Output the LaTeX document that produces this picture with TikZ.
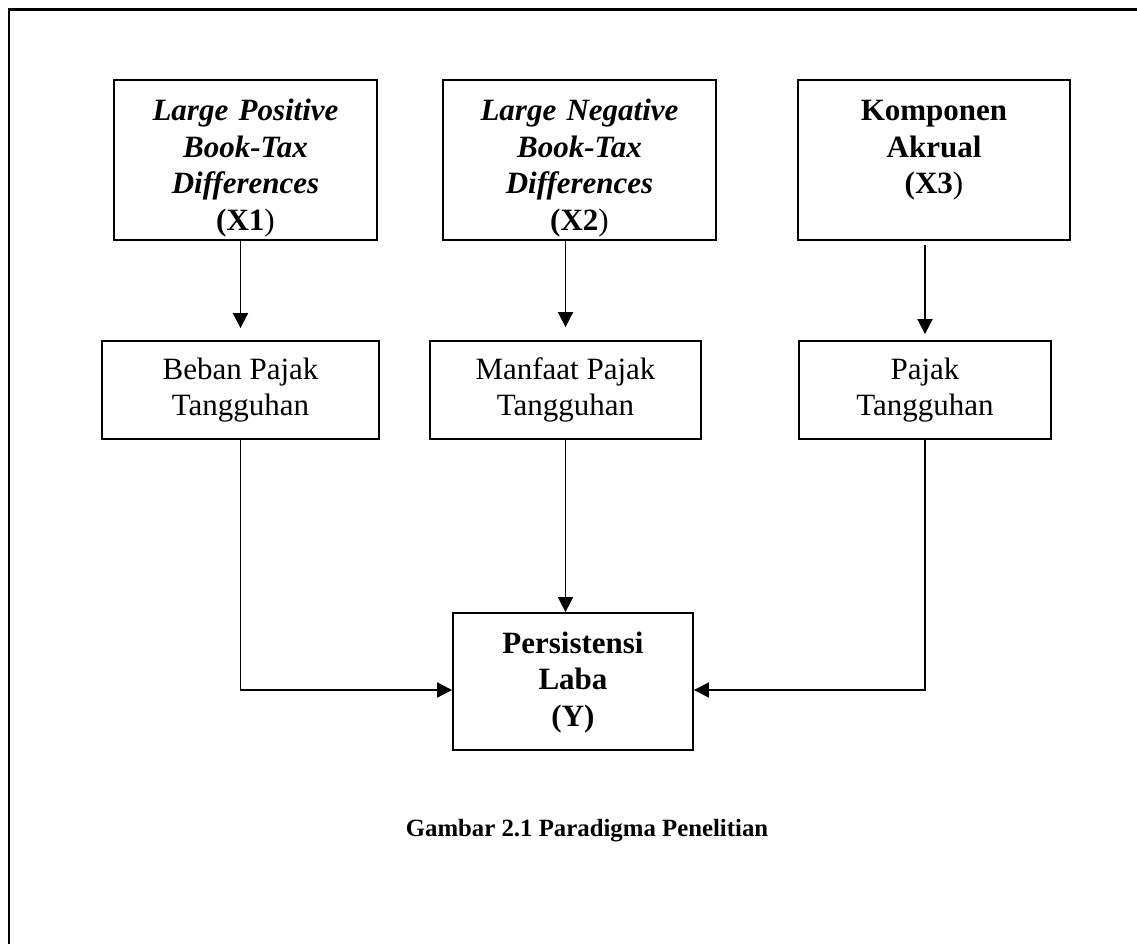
\documentclass[tikz,border=0pt]{standalone}
\usepackage{fontspec}
\setmainfont{Liberation Serif}
\usetikzlibrary{arrows.meta,positioning,calc}

\begin{document}
\begin{tikzpicture}[x=1pt, y=-1pt,
  every node/.style={font=\fontsize{31}{36.5}\selectfont},
  varbox/.style={draw, line width=1.8pt, anchor=north, inner sep=0pt, text width=#1, minimum width=#1, align=center, text height=41pt, text depth=119pt},
  taxbox/.style={draw, line width=1.8pt, inner sep=0pt, minimum width=#1, minimum height=98pt, align=center},
  link/.style={line width=1.8pt, -{Triangle[length=15pt, width=15pt]}}]
  \path[use as bounding box, clip] (0,0) rectangle (1137,944);
  \draw[line width=2.2pt] (9,960) -- (9,9.5) -- (1150,9.5);
  % independent variables
  \node[varbox=263pt] (x1) at (245.5,79) {\textbf{\textit{Large Positive\\Book-Tax\\Differences}}\\\textbf{(X1})};
  \node[varbox=273pt] (x2) at (579.5,79) {\textbf{\textit{Large Negative\\Book-Tax\\Differences}}\\\textbf{(X2})};
  \node[varbox=272pt] (x3) at (934,79) {\textbf{Komponen\\Akrual\\(X3})};
  % deferred tax
  \node[taxbox=277pt] (a) at (240.5,390) {Beban Pajak\\Tangguhan};
  \node[taxbox=271pt] (b) at (565.5,390) {Manfaat Pajak\\Tangguhan};
  \node[taxbox=252pt] (c) at (925,390) {Pajak\\Tangguhan};
  % dependent variable
  \node[varbox=240pt, anchor=center, text height=40pt, text depth=97pt, font=\fontsize{31}{36.5}\selectfont\bfseries] (y) at (573,681.5) {Persistensi\\Laba\\(Y)};
  \node[font=\fontsize{24.8}{29}\selectfont\bfseries] (caption) at (587,831) {Gambar 2.1 Paradigma Penelitian};
  \draw[link] (x1.south -| a.north) -- ([yshift=12pt]a.north);
  \draw[link] (x2.south -| b.north) -- ([yshift=13pt]b.north);
  \draw[link] ($(x3.south -| c.north)+(0,4)$) -- ([yshift=6pt]c.north);
  \draw[link] (a.south) |- ($(y.west)+(0,8.5)$);
  \draw[link] (c.south) |- ($(y.east)+(0,8.5)$);
  \draw[link] (b.south) -- (b.south |- y.north);
\end{tikzpicture}
\end{document}
